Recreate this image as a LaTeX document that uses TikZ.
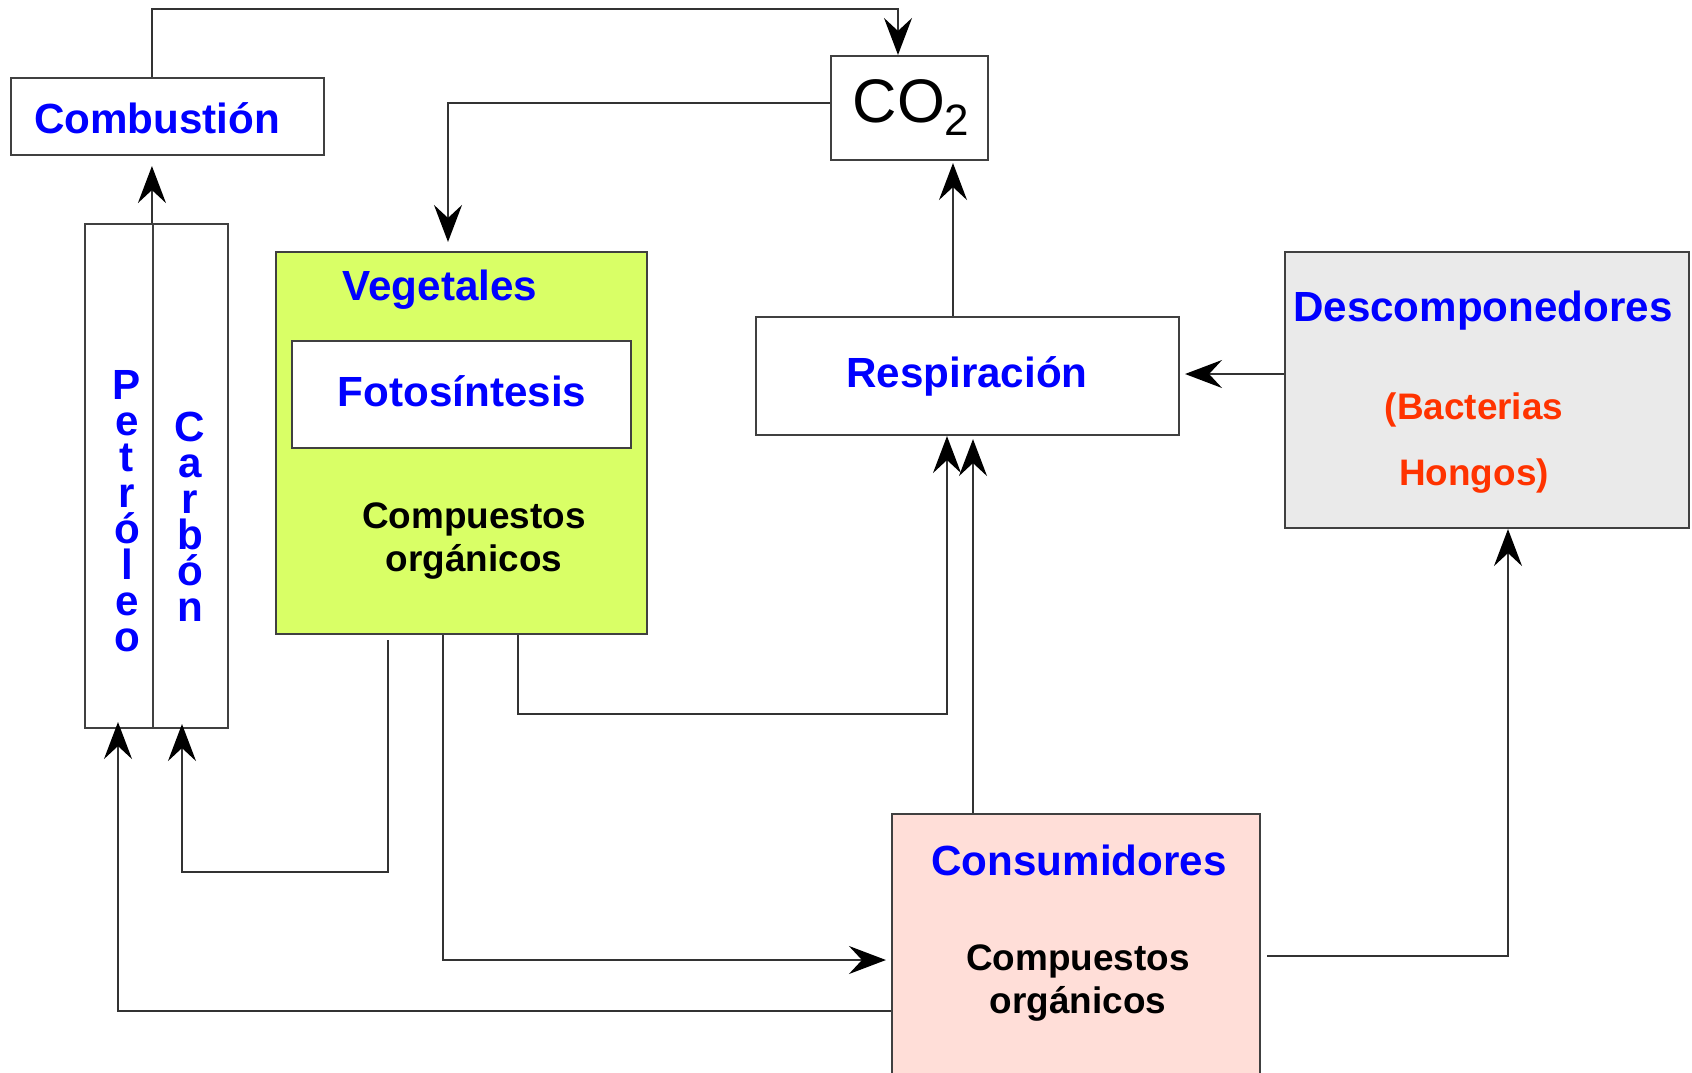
\documentclass[tikz,border=0pt]{standalone}
\usepackage{fontspec}
\setmainfont{Liberation Sans}
\usepackage{tikz}
\usetikzlibrary{positioning, arrows.meta}
\definecolor{vegetal}{RGB}{217,255,102}
\definecolor{descomp}{RGB}{234,234,234}
\definecolor{consum}{RGB}{255,222,216}
\definecolor{rojizo}{RGB}{255,51,0}

\begin{document}
\begin{tikzpicture}[x=0.1mm, y=-0.1mm,
						% Styles for boxes, labels and connectors
						box style/.style={rectangle, draw=black!75, line width=0.6pt, inner sep=0pt},
						title style/.style={text=blue, font=\fontsize{12}{14}\selectfont\bfseries},
						body style/.style={align=center, font=\fontsize{10.5}{12.5}\selectfont\bfseries},
						note style/.style={text=rojizo, font=\fontsize{10.5}{12}\selectfont\bfseries},
						column style/.style={align=center, text=blue, font=\fontsize{12}{10.24}\selectfont\bfseries},
						edge style/.style={draw=black!80, line width=0.5pt, -{Stealth[length=3.7mm, width=2.8mm, inset=1.3mm, black]}}
						]
						
						\useasboundingbox (0,0) rectangle (1692,1072);
						
						% Place the boxes
						\node[box style, minimum width=31.3mm, minimum height=7.7mm] (comb) at (167.5,116.5) {};
						\node[box style, minimum width=15.7mm, minimum height=10.4mm] (co2) at (909.5,108) {};
						\node[box style, minimum width=6.8mm, minimum height=50.4mm] (petro) at (119,476) {};
						\node[box style, minimum width=7.5mm, minimum height=50.4mm] (carbon) at (190.5,476) {};
						\node[box style, fill=vegetal, minimum width=37.1mm, minimum height=38.2mm] (veg) at (461.5,443) {};
						\node[box style, fill=white, minimum width=33.9mm, minimum height=10.7mm] (foto) at (461.5,394.5) {};
						\node[box style, minimum width=42.3mm, minimum height=11.8mm] (resp) at (967.5,376) {};
						\node[box style, fill=descomp, minimum width=40.4mm, minimum height=27.6mm] (desc) at (1487,390) {};
						\node[box style, fill=consum, minimum width=36.8mm, minimum height=28.4mm] (cons) at (1076,956) {};
						
						% Texts
						\node[title style] (combt) at (157,118) {Combustión};
						\node[font=\fontsize{17.5}{20}\selectfont] (co2t) at (911,108) {CO\raisebox{-1.3mm}{\fontsize{12.5}{14}\selectfont 2}};
						\node[column style] (petrot) at (127,511) {P\\e\\t\\r\\ó\\l\\e\\o};
						\node[column style] (carbont) at (190,517) {C\\a\\r\\b\\ó\\n};
						\node[title style] (vegt) at (440,290) {Vegetales};
						\node[title style] (fotot) at (462,391) {Fotosíntesis};
						\node[body style] (vegc) at (474,541) {Compuestos\\orgánicos};
						\node[title style] (respt) at (967,376) {Respiración};
						\node[title style] (desct) at (1483,311) {Descomponedores};
						\node[note style] (bact) at (1474,410) {(Bacterias};
						\node[note style] (hong) at (1474,476) {Hongos)};
						\node[title style] (const) at (1079,860) {Consumidores};
						\node[body style] (consc) at (1078,983) {Compuestos\\orgánicos};
						
						% --- Draw the edges ---
						\draw[edge style] (carbon.west |- comb.north) -- ++(0,-68) -| ([xshift=-1.15mm]co2.north);
						\draw[edge style, shorten >=0.9mm] ([yshift=0.5mm]co2.west) -| ([xshift=-1.35mm]veg.north);
						\draw[edge style, shorten >=1mm] (carbon.north west) -- (carbon.north west |- comb.south);
						\draw[edge style, shorten >=0.2mm] ([xshift=-1.45mm]resp.north) -- ([xshift=-1.45mm]resp.north |- co2.south);
						\draw[edge style, shorten >=0.5mm] ([yshift=1.6mm]desc.west) -- ([yshift=1.6mm]desc.west -| resp.east);
						\draw[edge style, shorten >=0.3mm] ([xshift=-10.3mm]cons.north) -- ([xshift=-10.3mm]cons.north |- resp.south);
						\draw[edge style] ([xshift=5.65mm]veg.south) -- ++(0,79) -| ([xshift=-2.05mm]resp.south);
						\draw[edge style] ([xshift=-7.35mm, yshift=-0.5mm]veg.south) -- ++(0,232) -| ([xshift=-0.85mm, yshift=0.5mm]carbon.south);
						\draw[edge style, shorten >=0.5mm] ([xshift=-1.85mm]veg.south) |- ([yshift=-0.4mm]cons.west);
						\draw[edge style] ([yshift=-5.5mm]cons.west) -| ([xshift=-0.1mm, yshift=0.7mm]petro.south);
						\draw[edge style] ([xshift=0.6mm]cons.east) -| ([xshift=2.1mm]desc.south);
					\end{tikzpicture}
\end{document}
